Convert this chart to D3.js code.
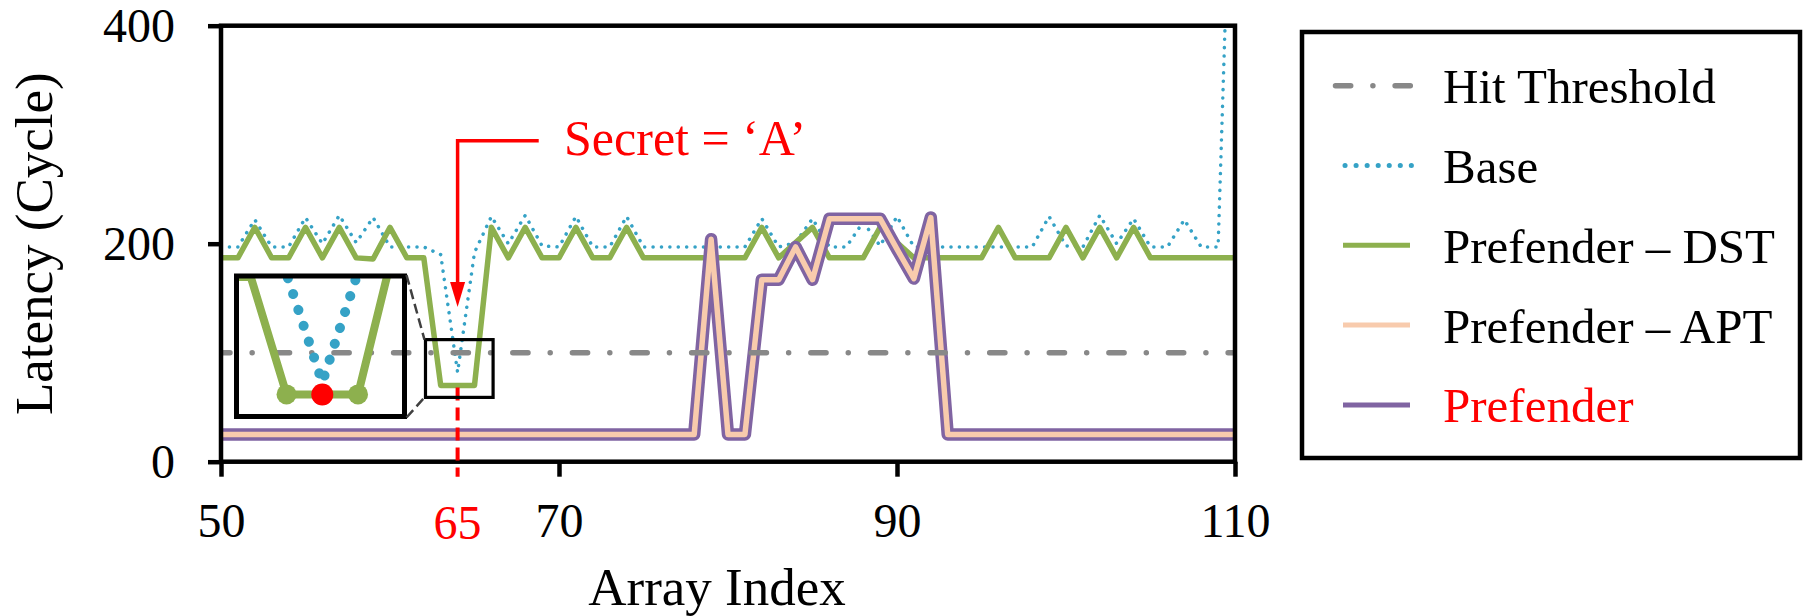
<!DOCTYPE html>
<html>
<head>
<meta charset="utf-8">
<script src="https://cdn.jsdelivr.net/npm/d3@7"></script>
<style>
  body { margin: 0; background: #fff; }
  text { font-family: "Liberation Serif", "Times New Roman", serif; }
</style>
</head>
<body>
<div id="chart"></div>
<script>
// Data (array index 50 .. 110)
var arrayIndex = d3.range(50, 111);
var baseLatency = [197, 197, 222, 197, 197, 224, 200, 226, 201, 224,
                   197, 197, 197, 190, 82, 192, 225, 200, 226, 198,
                   197, 225, 197, 197, 225, 197, 197, 197, 197, 197,
                   197, 197, 223, 197, 201, 223, 197, 197, 220, 198,
                   225, 197, 197, 197, 197, 197, 197, 197, 197, 225,
                   198, 197, 226, 200, 223, 197, 197, 222, 197, 197,
                   690];
var dstLatency = [187, 187, 215, 187, 187, 215, 187, 215, 187, 186,
                  215, 187, 187, 70, 70, 70, 215, 187, 215, 187,
                  187, 215, 187, 187, 215, 187, 187, 187, 187, 187,
                  187, 187, 215, 187, 201, 215, 187, 187, 187, 215,
                  201, 187, 187, 187, 187, 187, 215, 187, 187, 187,
                  215, 187, 215, 187, 215, 187, 187, 187, 187, 187,
                  187];
var aptLatency = [25, 25, 25, 25, 25, 25, 25, 25, 25, 25,
                  25, 25, 25, 25, 25, 25, 25, 25, 25, 25,
                  25, 25, 25, 25, 25, 25, 25, 25, 25, 204,
                  25, 25, 167, 167, 197, 167, 223, 223, 223, 223,
                  195, 168, 224, 25, 25, 25, 25, 25, 25, 25,
                  25, 25, 25, 25, 25, 25, 25, 25, 25, 25,
                  25];
var prefenderLatency = [25, 25, 25, 25, 25, 25, 25, 25, 25, 25,
                        25, 25, 25, 25, 25, 25, 25, 25, 25, 25,
                        25, 25, 25, 25, 25, 25, 25, 25, 25, 204,
                        25, 25, 167, 167, 197, 167, 223, 223, 223, 223,
                        195, 168, 224, 25, 25, 25, 25, 25, 25, 25,
                        25, 25, 25, 25, 25, 25, 25, 25, 25, 25,
                        25];
var hitThreshold = 100;
var xTicks = [50, 70, 90, 110];
var yTicks = [0, 200, 400];
var secretIndex = 64;
var secretTick = "65";
var secretText = "Secret = \u2018A\u2019";
var legendNames = ["Hit Threshold", "Base", "Prefender \u2013 DST", "Prefender \u2013 APT", "Prefender"];
// region of the main plot that the inset magnifies
var zoomRegionX = [62.1, 66.1];
var zoomRegionY = [59, 112];

// Canvas and scales
var W = 1816, H = 616;
var margin = { top: 25.7, right: 581, bottom: 154.3, left: 221 };
var x = d3.scaleLinear().domain([50, 110]).range([margin.left, W - margin.right]);
var y = d3.scaleLinear().domain([0, 400]).range([H - margin.bottom, margin.top]);

var colors = { hit: "#888888", base: "#35a2c6", dst: "#8db04e", apt: "#f8cbad", pre: "#8064a2", red: "#ff0000" };

var svg = d3.select("#chart")
    .append("svg")
    .attr("width", W)
    .attr("height", H);

var defs = svg.append("defs");
defs.append("clipPath").attr("id", "plot-clip")
    .append("rect")
    .attr("x", x(50)).attr("y", y(400))
    .attr("width", x(110) - x(50)).attr("height", y(0) - y(400));

var line = d3.line()
    .x(function (d, i) { return x(arrayIndex[i]); })
    .y(function (d) { return y(d); });

var plot = svg.append("g").attr("clip-path", "url(#plot-clip)");

// Base (dotted)
plot.append("path")
    .attr("d", line(baseLatency))
    .attr("fill", "none")
    .attr("stroke", colors.base)
    .attr("stroke-width", 3.5)
    .attr("stroke-linecap", "round")
    .attr("stroke-dasharray", "0.1 8.3");

// Prefender - DST
plot.append("path")
    .attr("d", line(dstLatency))
    .attr("fill", "none")
    .attr("stroke", colors.dst)
    .attr("stroke-width", 5.5)
    .attr("stroke-linejoin", "round");

// Prefender (wide) with APT drawn inside it
plot.append("path")
    .attr("d", line(prefenderLatency))
    .attr("fill", "none")
    .attr("stroke", colors.pre)
    .attr("stroke-width", 12.5)
    .attr("stroke-linejoin", "round");
plot.append("path")
    .attr("d", line(aptLatency))
    .attr("fill", "none")
    .attr("stroke", colors.apt)
    .attr("stroke-width", 5.5)
    .attr("stroke-linejoin", "round");

// Hit threshold (dash-dot)
plot.append("path")
    .attr("d", d3.line().x(function (d) { return x(d); }).y(y(hitThreshold))([50, 110]))
    .attr("fill", "none")
    .attr("stroke", colors.hit)
    .attr("stroke-width", 5.5)
    .attr("stroke-linecap", "round")
    .attr("stroke-dasharray", "15.2 22.2 0.01 22.2")
    .attr("stroke-dashoffset", 6.25);

// Axes
var xAxis = d3.axisBottom(x).tickValues(xTicks).tickSize(15).tickSizeOuter(0);
var gx = svg.append("g")
    .attr("transform", "translate(0," + y(0) + ")")
    .call(xAxis)
    .attr("font-size", null).attr("font-family", null);
gx.select(".domain").remove();
gx.selectAll(".tick line").attr("stroke", "#000").attr("stroke-width", 4.5);
gx.selectAll(".tick text")
    .attr("y", 75).attr("dy", 0)
    .attr("font-size", 48).attr("fill", "#000");

var yAxis = d3.axisLeft(y).tickValues(yTicks).tickSize(13).tickSizeOuter(0);
var gy = svg.append("g")
    .attr("transform", "translate(" + x(50) + ",0)")
    .call(yAxis)
    .attr("font-size", null).attr("font-family", null);
gy.select(".domain").remove();
gy.selectAll(".tick line").attr("stroke", "#000").attr("stroke-width", 4.5);
gy.selectAll(".tick text")
    .attr("x", -46).attr("dy", "0.33em")
    .attr("font-size", 48).attr("fill", "#000");

// plot frame
svg.append("rect")
    .attr("x", x(50)).attr("y", y(400))
    .attr("width", x(110) - x(50)).attr("height", y(0) - y(400))
    .attr("fill", "none")
    .attr("stroke", "#000")
    .attr("stroke-width", 4.5);

// Axis titles
svg.append("text")
    .attr("transform", "translate(51.7," + (y(0) + y(400)) / 2 + ") rotate(-90)")
    .attr("text-anchor", "middle")
    .attr("font-size", 53)
    .text("Latency (Cycle)");
svg.append("text")
    .attr("x", 717).attr("y", 605)
    .attr("text-anchor", "middle")
    .attr("font-size", 53)
    .text("Array Index");

// Secret marker: red dashed drop line and red tick label
var sx = x(secretIndex);
svg.append("line")
    .attr("x1", sx).attr("x2", sx)
    .attr("y1", y(dstLatency[arrayIndex.indexOf(secretIndex)]) + 2)
    .attr("y2", y(0) + 15)
    .attr("stroke", colors.red)
    .attr("stroke-width", 4)
    .attr("stroke-dasharray", "13 7");
svg.append("text")
    .attr("x", sx).attr("y", y(0) + 77)
    .attr("text-anchor", "middle")
    .attr("font-size", 48)
    .attr("fill", colors.red)
    .text(secretTick);

// Secret annotation arrow
var arrowTop = y(294.5), arrowTip = y(142);
svg.append("path")
    .attr("d", "M" + x(68.8) + "," + arrowTop + "H" + sx + "V" + (arrowTip - 24))
    .attr("fill", "none")
    .attr("stroke", colors.red)
    .attr("stroke-width", 3.5);
svg.append("path")
    .attr("d", "M" + (sx - 7.5) + "," + (arrowTip - 25) + "L" + (sx + 7.5) + "," + (arrowTip - 25) + "L" + sx + "," + arrowTip + "Z")
    .attr("fill", colors.red);
svg.append("text")
    .attr("x", x(70.3)).attr("y", y(281))
    .attr("font-size", 50)
    .attr("fill", colors.red)
    .text(secretText);

// Inset (magnified view of the dip)
var inset = { x0: 236.5, x1: 404.5, y0: 276, y1: 416.5 };
var xi = d3.scaleLinear().domain([61.6, 66.3]).range([inset.x0, inset.x1]);
var yi = d3.scaleLinear().domain([48, 188]).range([inset.y1, inset.y0]);
defs.append("clipPath").attr("id", "inset-clip")
    .append("rect")
    .attr("x", inset.x0 + 2).attr("y", inset.y0 + 2)
    .attr("width", inset.x1 - inset.x0 - 4).attr("height", inset.y1 - inset.y0 - 4);

var lineI = d3.line()
    .x(function (d, i) { return xi(arrayIndex[i]); })
    .y(function (d) { return yi(d); });

var gi = svg.append("g").attr("clip-path", "url(#inset-clip)");
gi.append("path")
    .attr("d", lineI(dstLatency))
    .attr("fill", "none")
    .attr("stroke", colors.dst)
    .attr("stroke-width", 8)
    .attr("stroke-linejoin", "round");
gi.append("path")
    .attr("d", lineI(baseLatency))
    .attr("fill", "none")
    .attr("stroke", colors.base)
    .attr("stroke-width", 10)
    .attr("stroke-linecap", "round")
    .attr("stroke-dasharray", "0.1 16.6");
gi.selectAll("circle.dst")
    .data([secretIndex - 1, secretIndex + 1])
    .enter().append("circle")
    .attr("class", "dst")
    .attr("cx", function (d) { return xi(d); })
    .attr("cy", function (d) { return yi(dstLatency[arrayIndex.indexOf(d)]); })
    .attr("r", 10)
    .attr("fill", colors.dst);
gi.append("circle")
    .attr("cx", xi(secretIndex))
    .attr("cy", yi(dstLatency[arrayIndex.indexOf(secretIndex)]))
    .attr("r", 11)
    .attr("fill", colors.red);

svg.append("rect")
    .attr("x", inset.x0).attr("y", inset.y0)
    .attr("width", inset.x1 - inset.x0).attr("height", inset.y1 - inset.y0)
    .attr("fill", "none")
    .attr("stroke", "#000")
    .attr("stroke-width", 5);

// small box marking the magnified region
var zx0 = x(zoomRegionX[0]), zx1 = x(zoomRegionX[1]);
var zy0 = y(zoomRegionY[1]), zy1 = y(zoomRegionY[0]);
svg.append("rect")
    .attr("x", zx0).attr("y", zy0)
    .attr("width", zx1 - zx0).attr("height", zy1 - zy0)
    .attr("fill", "none")
    .attr("stroke", "#000")
    .attr("stroke-width", 3.2);

// connectors
[[inset.y0 - 1, zy0], [inset.y1 + 1, zy1]].forEach(function (c) {
    svg.append("line")
        .attr("x1", inset.x1 + 2).attr("y1", c[0])
        .attr("x2", zx0 - 1).attr("y2", c[1])
        .attr("stroke", "#404040")
        .attr("stroke-width", 2.5)
        .attr("stroke-dasharray", "10 5");
});

// Legend
var lg = svg.append("g");
lg.append("rect")
    .attr("x", 1302).attr("y", 32)
    .attr("width", 498).attr("height", 426)
    .attr("fill", "none")
    .attr("stroke", "#000")
    .attr("stroke-width", 4.5);

var legendStyles = [
    { color: colors.hit, width: 5.5, dash: "15.2 22.2 0.01 22.2", cap: "round", x1: 1335.5, x2: 1410.3 },
    { color: colors.base, width: 5, dash: "0.1 10.95", cap: "round", x1: 1345, x2: 1411.5 },
    { color: colors.dst, width: 5, dash: null, cap: "butt", x1: 1343, x2: 1410 },
    { color: colors.apt, width: 5, dash: null, cap: "butt", x1: 1343, x2: 1410 },
    { color: colors.pre, width: 5, dash: null, cap: "butt", x1: 1343, x2: 1410 }
];
var rowY = function (i) { return 85.7 + i * 79.8; };

var rows = lg.selectAll("g.row")
    .data(legendNames)
    .enter().append("g")
    .attr("class", "row");
rows.append("line")
    .attr("x1", function (d, i) { return legendStyles[i].x1; })
    .attr("x2", function (d, i) { return legendStyles[i].x2; })
    .attr("y1", function (d, i) { return rowY(i); })
    .attr("y2", function (d, i) { return rowY(i); })
    .attr("stroke", function (d, i) { return legendStyles[i].color; })
    .attr("stroke-width", function (d, i) { return legendStyles[i].width; })
    .attr("stroke-linecap", function (d, i) { return legendStyles[i].cap; })
    .attr("stroke-dasharray", function (d, i) { return legendStyles[i].dash; });
rows.append("text")
    .attr("x", 1443)
    .attr("y", function (d, i) { return rowY(i) + 17.5; })
    .attr("font-size", 49)
    .attr("fill", function (d, i) { return i === 4 ? colors.red : "#000"; })
    .text(function (d) { return d; });
</script>
</body>
</html>
